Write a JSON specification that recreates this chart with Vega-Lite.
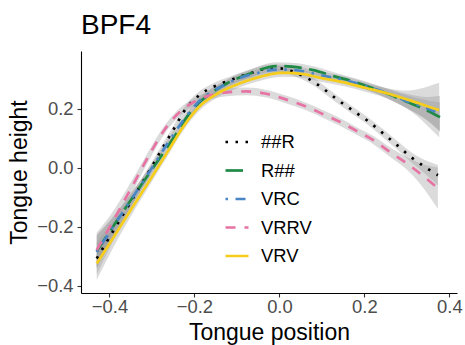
{
  "$schema": "https://vega.github.io/schema/vega-lite/v6.json",
  "width": 376,
  "height": 242,
  "autosize": {"type": "none"},
  "padding": {"left": 81, "top": 51, "right": 8, "bottom": 52},
  "title": {"text": "BPF4", "anchor": "start", "frame": "group", "fontSize": 28, "fontWeight": "normal", "color": "#000000", "font": "Liberation Sans", "offset": 11},
  "data": {"values": [
    {"g":"##R","x":-0.43,"y":-0.307,"lo":-0.362,"hi":-0.252},
    {"g":"##R","x":-0.40,"y":-0.235,"lo":-0.272,"hi":-0.198},
    {"g":"##R","x":-0.35,"y":-0.115,"lo":-0.137,"hi":-0.093},
    {"g":"##R","x":-0.30,"y":0.005,"lo":-0.011,"hi":0.021},
    {"g":"##R","x":-0.27,"y":0.080,"lo":0.066,"hi":0.094},
    {"g":"##R","x":-0.25,"y":0.128,"lo":0.115,"hi":0.141},
    {"g":"##R","x":-0.226,"y":0.188,"lo":0.175,"hi":0.201},
    {"g":"##R","x":-0.207,"y":0.222,"lo":0.209,"hi":0.235},
    {"g":"##R","x":-0.187,"y":0.248,"lo":0.235,"hi":0.261},
    {"g":"##R","x":-0.156,"y":0.274,"lo":0.261,"hi":0.287},
    {"g":"##R","x":-0.116,"y":0.297,"lo":0.284,"hi":0.310},
    {"g":"##R","x":-0.069,"y":0.320,"lo":0.307,"hi":0.333},
    {"g":"##R","x":-0.030,"y":0.336,"lo":0.323,"hi":0.349},
    {"g":"##R","x":0.000,"y":0.337,"lo":0.324,"hi":0.350},
    {"g":"##R","x":0.030,"y":0.327,"lo":0.314,"hi":0.340},
    {"g":"##R","x":0.060,"y":0.308,"lo":0.295,"hi":0.321},
    {"g":"##R","x":0.080,"y":0.292,"lo":0.279,"hi":0.305},
    {"g":"##R","x":0.100,"y":0.272,"lo":0.259,"hi":0.285},
    {"g":"##R","x":0.133,"y":0.235,"lo":0.222,"hi":0.248},
    {"g":"##R","x":0.171,"y":0.196,"lo":0.183,"hi":0.209},
    {"g":"##R","x":0.209,"y":0.158,"lo":0.145,"hi":0.171},
    {"g":"##R","x":0.244,"y":0.117,"lo":0.103,"hi":0.131},
    {"g":"##R","x":0.277,"y":0.077,"lo":0.062,"hi":0.092},
    {"g":"##R","x":0.311,"y":0.035,"lo":0.018,"hi":0.052},
    {"g":"##R","x":0.348,"y":-0.002,"lo":-0.027,"hi":0.023},
    {"g":"##R","x":0.373,"y":-0.025,"lo":-0.060,"hi":0.010},

    {"g":"R##","x":-0.43,"y":-0.282,"lo":-0.337,"hi":-0.227},
    {"g":"R##","x":-0.40,"y":-0.217,"lo":-0.254,"hi":-0.180},
    {"g":"R##","x":-0.35,"y":-0.110,"lo":-0.132,"hi":-0.088},
    {"g":"R##","x":-0.30,"y":-0.005,"lo":-0.021,"hi":0.011},
    {"g":"R##","x":-0.265,"y":0.068,"lo":0.054,"hi":0.082},
    {"g":"R##","x":-0.242,"y":0.118,"lo":0.105,"hi":0.131},
    {"g":"R##","x":-0.218,"y":0.172,"lo":0.159,"hi":0.185},
    {"g":"R##","x":-0.19,"y":0.220,"lo":0.207,"hi":0.233},
    {"g":"R##","x":-0.171,"y":0.243,"lo":0.230,"hi":0.256},
    {"g":"R##","x":-0.124,"y":0.286,"lo":0.273,"hi":0.299},
    {"g":"R##","x":-0.069,"y":0.320,"lo":0.307,"hi":0.333},
    {"g":"R##","x":-0.007,"y":0.345,"lo":0.332,"hi":0.358},
    {"g":"R##","x":0.03,"y":0.343,"lo":0.330,"hi":0.356},
    {"g":"R##","x":0.08,"y":0.331,"lo":0.318,"hi":0.344},
    {"g":"R##","x":0.13,"y":0.310,"lo":0.297,"hi":0.323},
    {"g":"R##","x":0.18,"y":0.290,"lo":0.277,"hi":0.303},
    {"g":"R##","x":0.23,"y":0.265,"lo":0.250,"hi":0.280},
    {"g":"R##","x":0.27,"y":0.242,"lo":0.224,"hi":0.260},
    {"g":"R##","x":0.30,"y":0.224,"lo":0.202,"hi":0.246},
    {"g":"R##","x":0.35,"y":0.193,"lo":0.158,"hi":0.228},
    {"g":"R##","x":0.378,"y":0.172,"lo":0.122,"hi":0.222},

    {"g":"VRC","x":-0.43,"y":-0.285,"lo":-0.340,"hi":-0.230},
    {"g":"VRC","x":-0.40,"y":-0.219,"lo":-0.256,"hi":-0.182},
    {"g":"VRC","x":-0.35,"y":-0.110,"lo":-0.132,"hi":-0.088},
    {"g":"VRC","x":-0.30,"y":0.000,"lo":-0.016,"hi":0.016},
    {"g":"VRC","x":-0.27,"y":0.068,"lo":0.054,"hi":0.082},
    {"g":"VRC","x":-0.24,"y":0.133,"lo":0.120,"hi":0.146},
    {"g":"VRC","x":-0.21,"y":0.192,"lo":0.179,"hi":0.205},
    {"g":"VRC","x":-0.187,"y":0.228,"lo":0.215,"hi":0.241},
    {"g":"VRC","x":-0.16,"y":0.257,"lo":0.244,"hi":0.270},
    {"g":"VRC","x":-0.124,"y":0.285,"lo":0.272,"hi":0.298},
    {"g":"VRC","x":-0.093,"y":0.305,"lo":0.292,"hi":0.318},
    {"g":"VRC","x":-0.05,"y":0.322,"lo":0.309,"hi":0.335},
    {"g":"VRC","x":-0.007,"y":0.333,"lo":0.320,"hi":0.346},
    {"g":"VRC","x":0.03,"y":0.332,"lo":0.319,"hi":0.345},
    {"g":"VRC","x":0.1,"y":0.313,"lo":0.300,"hi":0.326},
    {"g":"VRC","x":0.15,"y":0.298,"lo":0.285,"hi":0.311},
    {"g":"VRC","x":0.2,"y":0.279,"lo":0.266,"hi":0.292},
    {"g":"VRC","x":0.252,"y":0.254,"lo":0.238,"hi":0.270},
    {"g":"VRC","x":0.3,"y":0.226,"lo":0.201,"hi":0.251},
    {"g":"VRC","x":0.35,"y":0.200,"lo":0.160,"hi":0.240},
    {"g":"VRC","x":0.378,"y":0.184,"lo":0.124,"hi":0.244},

    {"g":"VRRV","x":-0.43,"y":-0.279,"lo":-0.339,"hi":-0.219},
    {"g":"VRRV","x":-0.40,"y":-0.202,"lo":-0.239,"hi":-0.165},
    {"g":"VRRV","x":-0.35,"y":-0.072,"lo":-0.094,"hi":-0.050},
    {"g":"VRRV","x":-0.30,"y":0.060,"lo":0.044,"hi":0.076},
    {"g":"VRRV","x":-0.27,"y":0.130,"lo":0.116,"hi":0.144},
    {"g":"VRRV","x":-0.242,"y":0.179,"lo":0.166,"hi":0.192},
    {"g":"VRRV","x":-0.211,"y":0.215,"lo":0.202,"hi":0.228},
    {"g":"VRRV","x":-0.18,"y":0.238,"lo":0.225,"hi":0.251},
    {"g":"VRRV","x":-0.15,"y":0.250,"lo":0.237,"hi":0.263},
    {"g":"VRRV","x":-0.124,"y":0.256,"lo":0.243,"hi":0.269},
    {"g":"VRRV","x":-0.077,"y":0.259,"lo":0.246,"hi":0.272},
    {"g":"VRRV","x":-0.034,"y":0.252,"lo":0.239,"hi":0.265},
    {"g":"VRRV","x":0.013,"y":0.233,"lo":0.220,"hi":0.246},
    {"g":"VRRV","x":0.064,"y":0.207,"lo":0.194,"hi":0.220},
    {"g":"VRRV","x":0.103,"y":0.182,"lo":0.169,"hi":0.195},
    {"g":"VRRV","x":0.142,"y":0.156,"lo":0.143,"hi":0.169},
    {"g":"VRRV","x":0.182,"y":0.125,"lo":0.112,"hi":0.138},
    {"g":"VRRV","x":0.221,"y":0.094,"lo":0.080,"hi":0.108},
    {"g":"VRRV","x":0.260,"y":0.054,"lo":0.038,"hi":0.070},
    {"g":"VRRV","x":0.295,"y":0.020,"lo":0.000,"hi":0.040},
    {"g":"VRRV","x":0.331,"y":-0.019,"lo":-0.054,"hi":0.016},
    {"g":"VRRV","x":0.373,"y":-0.069,"lo":-0.139,"hi":0.001},

    {"g":"VRV","x":-0.43,"y":-0.324,"lo":-0.379,"hi":-0.269},
    {"g":"VRV","x":-0.40,"y":-0.257,"lo":-0.294,"hi":-0.220},
    {"g":"VRV","x":-0.35,"y":-0.143,"lo":-0.165,"hi":-0.121},
    {"g":"VRV","x":-0.30,"y":-0.030,"lo":-0.046,"hi":-0.014},
    {"g":"VRV","x":-0.265,"y":0.050,"lo":0.036,"hi":0.064},
    {"g":"VRV","x":-0.226,"y":0.140,"lo":0.127,"hi":0.153},
    {"g":"VRV","x":-0.19,"y":0.205,"lo":0.192,"hi":0.218},
    {"g":"VRV","x":-0.148,"y":0.250,"lo":0.237,"hi":0.263},
    {"g":"VRV","x":-0.101,"y":0.282,"lo":0.269,"hi":0.295},
    {"g":"VRV","x":-0.054,"y":0.305,"lo":0.292,"hi":0.318},
    {"g":"VRV","x":0.009,"y":0.322,"lo":0.309,"hi":0.335},
    {"g":"VRV","x":0.05,"y":0.319,"lo":0.306,"hi":0.332},
    {"g":"VRV","x":0.1,"y":0.304,"lo":0.291,"hi":0.317},
    {"g":"VRV","x":0.15,"y":0.290,"lo":0.277,"hi":0.303},
    {"g":"VRV","x":0.2,"y":0.272,"lo":0.259,"hi":0.285},
    {"g":"VRV","x":0.25,"y":0.254,"lo":0.237,"hi":0.271},
    {"g":"VRV","x":0.3,"y":0.232,"lo":0.202,"hi":0.262},
    {"g":"VRV","x":0.33,"y":0.218,"lo":0.168,"hi":0.268},
    {"g":"VRV","x":0.35,"y":0.208,"lo":0.140,"hi":0.276},
    {"g":"VRV","x":0.376,"y":0.196,"lo":0.104,"hi":0.288}
  ]},
  "encoding": {
    "x": {"field": "x", "type": "quantitative",
      "scale": {"domain": [-0.467, 0.418], "nice": false, "zero": false},
      "axis": {"title": "Tongue position", "values": [-0.4, -0.2, 0, 0.2, 0.4], "format": ".1f", "labelPadding": 0, "titlePadding": 6}}
  },
  "layer": [
    {
      "mark": {"type": "area", "interpolate": "monotone", "color": "#999999", "opacity": 0.35},
      "encoding": {
        "y": {"field": "lo", "type": "quantitative",
          "scale": {"domain": [-0.424, 0.396], "nice": false, "zero": false},
          "axis": {"title": "Tongue height", "values": [-0.4, -0.2, 0, 0.2], "format": ".1f", "labelPadding": 4, "titlePadding": 5}},
        "y2": {"field": "hi"},
        "detail": {"field": "g"}
      }
    },
    {
      "mark": {"type": "line", "interpolate": "monotone", "strokeWidth": 2.7},
      "encoding": {
        "y": {"field": "y", "type": "quantitative"},
        "color": {"field": "g", "type": "nominal",
          "scale": {"domain": ["##R", "R##", "VRC", "VRRV", "VRV"], "range": ["#000000", "#1E8A46", "#4A86C6", "#E673A3", "#F5CD1A"]},
          "legend": {"title": null, "orient": "none", "legendX": 143, "legendY": 78, "symbolType": "stroke", "symbolSize": 529, "symbolStrokeWidth": 2.7, "labelFontSize": 18.4, "labelColor": "#000000", "labelFont": "Liberation Sans", "rowPadding": 5.5, "labelOffset": 11, "padding": 0}},
        "strokeDash": {"field": "g", "type": "nominal",
          "scale": {"domain": ["##R", "R##", "VRC", "VRRV", "VRV"], "range": [[2.5, 7.5], [17.5, 7.5], [2.5, 7.5, 10, 7.5], [10, 9], [1, 0]]},
          "legend": {"title": null, "orient": "none", "legendX": 143, "legendY": 78, "symbolType": "stroke", "symbolSize": 529, "symbolStrokeWidth": 2.7, "labelFontSize": 18.4, "labelColor": "#000000", "labelFont": "Liberation Sans", "rowPadding": 5.5, "labelOffset": 11, "padding": 0}}
      }
    }
  ],
  "config": {
    "font": "Liberation Sans",
    "view": {"stroke": null},
    "axis": {"grid": false, "domainColor": "#000000", "domainWidth": 1.1, "tickColor": "#333333", "tickWidth": 1.1, "tickSize": 4, "labelFontSize": 18.4, "labelColor": "#4D4D4D", "labelFont": "Liberation Sans", "titleFontSize": 23, "titleFontWeight": "normal", "titleColor": "#000000", "titleFont": "Liberation Sans"}
  }
}
